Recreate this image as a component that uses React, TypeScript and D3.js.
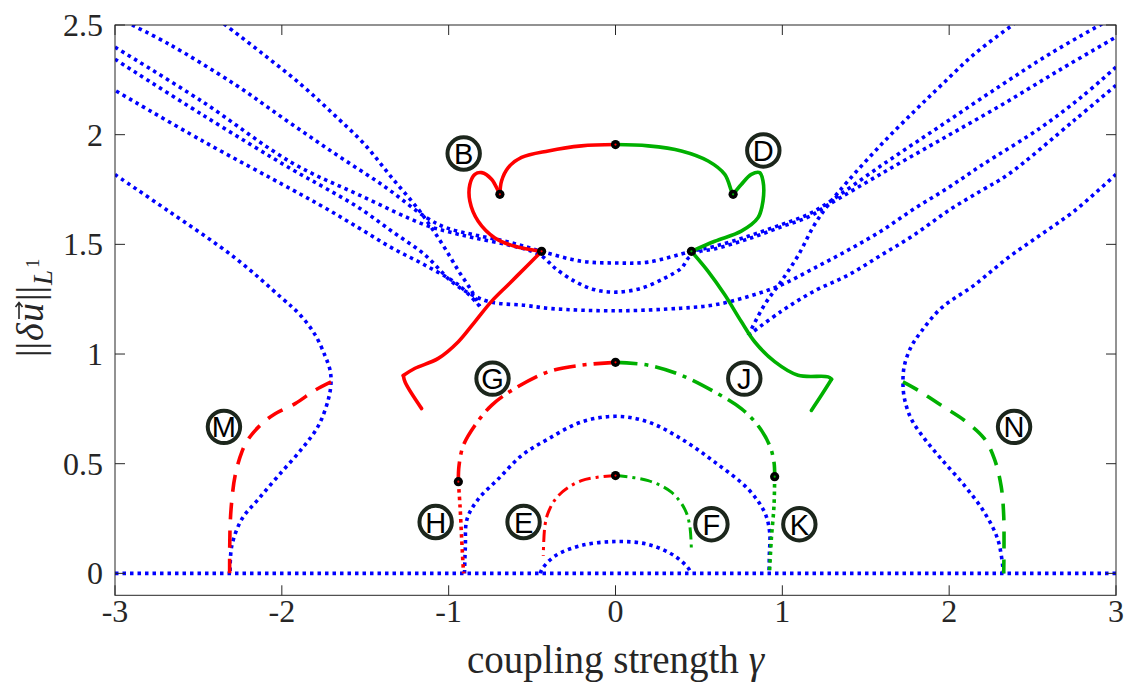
import React from 'react';
import * as d3 from 'd3';

type Pt = [number, number];

// ---------------- axes ----------------
const xTickValues = [-3, -2, -1, 0, 1, 2, 3];
const xTickLabels = ['-3', '-2', '-1', '0', '1', '2', '3'];
const yTickValues = [0, 0.5, 1, 1.5, 2, 2.5];
const yTickLabels = ['0', '0.5', '1', '1.5', '2', '2.5'];
const xTitleText = 'coupling strength ';
const xTitleSymbol = 'γ';

// ---------------- unstable branches (blue, dotted) ----------------
const trivialBranch: Pt[] = [[-3, 0], [3, 0]];
const archLow: Pt[] = [[-0.45, 0], [-0.44, 0.02], [-0.363, 0.079], [-0.204, 0.127], [0.006, 0.145], [0.196, 0.132], [0.355, 0.079], [0.44, 0.02], [0.45, 0]];
const archMid: Pt[] = [[-0.905, 0], [-0.9, 0.12], [-0.89, 0.247], [-0.822, 0.339], [-0.703, 0.43], [-0.563, 0.537], [-0.403, 0.613], [-0.204, 0.69], [0.006, 0.716], [0.196, 0.69], [0.395, 0.613], [0.595, 0.507], [0.794, 0.385], [0.894, 0.278], [0.924, 0.187], [0.922, 0.08], [0.92, 0]];
const outerLeft: Pt[] = [[-3, 1.818], [-2.68, 1.652], [-2.28, 1.438], [-2.0, 1.255], [-1.89, 1.178], [-1.8, 1.087], [-1.74, 0.99], [-1.712, 0.93], [-1.705, 0.873], [-1.72, 0.797], [-1.78, 0.674], [-1.88, 0.568], [-2.02, 0.446], [-2.14, 0.339], [-2.24, 0.247], [-2.3, 0.125], [-2.31, 0]];
const outerRight: Pt[] = [[3, 1.819], [2.75, 1.652], [2.551, 1.545], [2.351, 1.438], [2.152, 1.315], [1.952, 1.209], [1.832, 1.102], [1.772, 1.033], [1.732, 0.949], [1.723, 0.873], [1.732, 0.797], [1.772, 0.705], [1.852, 0.614], [1.952, 0.522], [2.092, 0.4], [2.211, 0.278], [2.291, 0.156], [2.321, 0.034], [2.325, 0]];
const bowlUpper: Pt[] = [[-2.898, 2.5], [-2.677, 2.413], [-2.283, 2.23], [-1.982, 2.07], [-1.683, 1.914], [-1.383, 1.763], [-1.132, 1.621], [-1.012, 1.575], [-0.844, 1.543], [-0.641, 1.511], [-0.443, 1.468], [-0.204, 1.423], [0.006, 1.415], [0.196, 1.419], [0.455, 1.468], [0.595, 1.491], [0.795, 1.537], [0.994, 1.59], [1.154, 1.636], [1.274, 1.69], [1.593, 1.859], [1.952, 2.042], [2.311, 2.225], [2.611, 2.372], [2.916, 2.505]];
const bowlMiddle: Pt[] = [[-3, 2.399], [-2.479, 2.152], [-1.94, 1.872], [-1.539, 1.726], [-1.144, 1.589], [-1.0, 1.557], [-0.844, 1.529], [-0.641, 1.497], [-0.5, 1.468], [-0.43, 1.44], [-0.363, 1.392], [-0.244, 1.331], [-0.124, 1.293], [0.006, 1.282], [0.156, 1.3], [0.295, 1.346], [0.395, 1.392], [0.44, 1.44], [0.5, 1.466], [0.593, 1.479], [0.796, 1.525], [0.994, 1.58], [1.156, 1.625], [1.275, 1.68], [1.593, 1.822], [1.952, 1.978], [2.311, 2.134], [2.671, 2.299], [3, 2.445]];
const bowlLower: Pt[] = [[-3, 2.344], [-2.479, 2.092], [-1.94, 1.842], [-1.743, 1.758], [-1.539, 1.667], [-1.341, 1.56], [-1.144, 1.453], [-0.982, 1.33], [-0.86, 1.27], [-0.743, 1.236], [-0.545, 1.222], [-0.383, 1.207], [0.006, 1.197], [0.395, 1.209], [0.593, 1.224], [0.796, 1.262], [0.994, 1.315], [1.192, 1.392], [1.395, 1.474], [1.593, 1.561], [1.79, 1.662], [1.994, 1.758], [2.192, 1.859], [2.551, 2.033], [2.79, 2.17], [3, 2.308]];
const foldLeftUpper: Pt[] = [[-2.347, 2.505], [-2.12, 2.372], [-1.88, 2.225], [-1.683, 2.088], [-1.503, 1.955], [-1.341, 1.804], [-1.18, 1.658], [-1.102, 1.575], [-1.024, 1.484], [-0.94, 1.378], [-0.862, 1.287], [-0.814, 1.218]];
const foldLeftLower: Pt[] = [[-0.814, 1.218], [-0.94, 1.314], [-1.144, 1.406], [-1.341, 1.484], [-1.539, 1.575], [-1.743, 1.667], [-1.94, 1.75], [-2.479, 1.973], [-3, 2.202]];
const foldRightUpper: Pt[] = [[0.796, 1.085], [0.892, 1.223], [0.994, 1.332], [1.096, 1.451], [1.192, 1.589], [1.275, 1.68], [1.395, 1.79], [1.593, 1.955], [1.79, 2.106], [1.952, 2.225], [2.15, 2.367], [2.389, 2.505]];
const foldRightLower: Pt[] = [[0.796, 1.085], [0.994, 1.195], [1.192, 1.287], [1.395, 1.36], [1.593, 1.451], [1.79, 1.543], [1.994, 1.653], [2.192, 1.745], [2.353, 1.818], [2.749, 2.065], [3, 2.225]];

// ---------------- red (left) branches ----------------
const redLoop: Pt[] = [[-0.443, 1.468], [-0.603, 1.491], [-0.723, 1.529], [-0.823, 1.605], [-0.873, 1.697], [-0.873, 1.773], [-0.843, 1.819], [-0.802, 1.827], [-0.743, 1.797], [-0.703, 1.743], [-0.693, 1.728]];
const redArcTop: Pt[] = [[-0.693, 1.728], [-0.683, 1.789], [-0.643, 1.85], [-0.563, 1.896], [-0.403, 1.926], [-0.204, 1.949], [0, 1.955]];
const redTail: Pt[] = [[-0.443, 1.468], [-0.523, 1.407], [-0.643, 1.316], [-0.743, 1.24], [-0.842, 1.148], [-0.942, 1.056], [-1.062, 0.98], [-1.204, 0.934], [-1.272, 0.902]];
const redTailEnd: Pt[] = [[-1.272, 0.902], [-1.26, 0.87], [-1.162, 0.751]];
const redG: Pt[] = [[0, 0.962], [-0.204, 0.949], [-0.403, 0.919], [-0.603, 0.843], [-0.743, 0.766], [-0.843, 0.674], [-0.912, 0.583], [-0.938, 0.491], [-0.942, 0.418]];
const redH: Pt[] = [[-0.942, 0.418], [-0.932, 0.308], [-0.922, 0.156], [-0.912, 0.018], [-0.91, 0]];
const redE: Pt[] = [[0, 0.446], [-0.204, 0.423], [-0.343, 0.354], [-0.403, 0.278], [-0.423, 0.217], [-0.433, 0.08]];
const redM: Pt[] = [[-1.705, 0.873], [-1.801, 0.835], [-1.92, 0.774], [-2.04, 0.728], [-2.12, 0.682], [-2.199, 0.614], [-2.24, 0.553], [-2.28, 0.446], [-2.299, 0.339], [-2.31, 0.217], [-2.313, 0]];

// ---------------- green (right) branches ----------------
const greenArcTop: Pt[] = [[0, 1.955], [0.196, 1.949], [0.395, 1.926], [0.555, 1.88], [0.655, 1.819], [0.695, 1.743], [0.705, 1.728]];
const greenLoop: Pt[] = [[0.705, 1.728], [0.754, 1.773], [0.814, 1.819], [0.864, 1.827], [0.884, 1.789], [0.884, 1.697], [0.854, 1.621], [0.754, 1.56], [0.595, 1.514], [0.455, 1.468]];
const greenTail: Pt[] = [[0.455, 1.468], [0.555, 1.377], [0.655, 1.27], [0.754, 1.148], [0.834, 1.056], [0.954, 0.965], [1.094, 0.903], [1.274, 0.896], [1.295, 0.885]];
const greenTailEnd: Pt[] = [[1.295, 0.885], [1.234, 0.812], [1.174, 0.743]];
const greenJ: Pt[] = [[0, 0.962], [0.196, 0.949], [0.395, 0.903], [0.595, 0.827], [0.754, 0.751], [0.854, 0.674], [0.924, 0.583], [0.95, 0.507], [0.954, 0.441]];
const greenK: Pt[] = [[0.954, 0.441], [0.95, 0.308], [0.934, 0.156], [0.924, 0.018], [0.922, 0]];
const greenF: Pt[] = [[0, 0.446], [0.196, 0.423], [0.335, 0.37], [0.415, 0.293], [0.445, 0.217], [0.455, 0.1]];
const greenN: Pt[] = [[1.723, 0.873], [1.813, 0.835], [1.952, 0.766], [2.092, 0.697], [2.211, 0.614], [2.271, 0.522], [2.311, 0.4], [2.327, 0.262], [2.327, 0]];

// ---------------- bifurcation points ----------------
const bifGamma = [0, -0.693, 0.705, -0.443, 0.455, 0, -0.942, 0.954, 0];
const bifNorm = [1.955, 1.728, 1.728, 1.468, 1.468, 0.962, 0.418, 0.441, 0.446];
const bifSide = ['r', 'r', 'g', 'r', 'g', 'r', 'r', 'g', 'r'];

// ---------------- circled labels ----------------
const labelNames = ['B', 'D', 'G', 'J', 'H', 'E', 'F', 'K', 'M', 'N'];
const labelGamma = [-0.91, 0.886, -0.737, 0.772, -1.078, -0.551, 0.575, 1.102, -2.347, 2.389];
const labelNorm = [1.914, 1.928, 0.888, 0.888, 0.234, 0.234, 0.224, 0.224, 0.668, 0.668];

const RED = '#ff0000';
const GREEN = '#00b000';
const BLUE = '#0000ff';

export default function App() {
  const left = 115, right = 1116, top = 25, bottom = 595.3;
  const x = d3.scaleLinear().domain([-3, 3]).range([left, right]);
  const y = d3.scaleLinear().domain([-0.1, 2.5]).range([bottom, top]);
  const line = d3.line<Pt>().x(d => x(d[0])).y(d => y(d[1])).curve(d3.curveCatmullRom.alpha(0.5));

  const dotted = { stroke: BLUE, strokeWidth: 3.6, strokeDasharray: '3.5 4', fill: 'none' };
  const blueSeries = [trivialBranch, archLow, archMid, outerLeft, outerRight, bowlUpper, bowlMiddle, bowlLower, foldLeftUpper, foldLeftLower, foldRightUpper, foldRightLower];

  const solid = (c: string) => ({ stroke: c, strokeWidth: 3.6, fill: 'none', strokeLinecap: 'round' as const, strokeLinejoin: 'round' as const });
  const dashDot = (c: string) => ({ stroke: c, strokeWidth: 3.6, fill: 'none', strokeDasharray: '22 7 4 7' });
  const dashDotFine = (c: string) => ({ stroke: c, strokeWidth: 3, fill: 'none', strokeDasharray: '12 5 3 5' });
  const dashed = (c: string) => ({ stroke: c, strokeWidth: 3.6, fill: 'none', strokeDasharray: '17 11' });
  const dottedC = (c: string) => ({ stroke: c, strokeWidth: 3.6, fill: 'none', strokeDasharray: '3.5 4' });

  const colored: { d: Pt[]; s: any }[] = [
    { d: redLoop, s: solid(RED) }, { d: redArcTop, s: solid(RED) }, { d: redTail, s: solid(RED) }, { d: redTailEnd, s: solid(RED) },
    { d: greenArcTop, s: solid(GREEN) }, { d: greenLoop, s: solid(GREEN) }, { d: greenTail, s: solid(GREEN) }, { d: greenTailEnd, s: solid(GREEN) },
    { d: redG, s: dashDot(RED) }, { d: greenJ, s: dashDot(GREEN) },
    { d: redE, s: dashDotFine(RED) }, { d: greenF, s: dashDotFine(GREEN) },
    { d: redH, s: dottedC(RED) }, { d: greenK, s: dottedC(GREEN) },
    { d: redM, s: dashed(RED) }, { d: greenN, s: dashed(GREEN) },
  ];

  const axisColor = '#262626';
  const serif = "'Liberation Serif', 'Times New Roman', serif";
  const sans = "'Liberation Sans', Arial, sans-serif";
  const tickLen = 10;

  return (
    <svg width={1134} height={698} style={{ position: 'absolute', left: 0, top: 0, background: '#fff' }}>
      <defs>
        <clipPath id="plotClip">
          <rect x={left} y={top} width={right - left} height={bottom - top} />
        </clipPath>
      </defs>
      <rect x={0} y={0} width={1134} height={698} fill="#fff" />
      <g clipPath="url(#plotClip)">
        {blueSeries.map((s, i) => <path key={'b' + i} d={line(s) || ''} {...dotted} />)}
        {colored.map((c, i) => <path key={'c' + i} d={line(c.d) || ''} {...c.s} />)}
      </g>

      {/* axes box */}
      <rect x={left} y={top} width={right - left} height={bottom - top} fill="none" stroke={axisColor} strokeWidth={1} />
      {xTickValues.map((v, i) => (
        <g key={'xt' + i}>
          <line x1={x(v)} x2={x(v)} y1={bottom} y2={bottom - tickLen} stroke={axisColor} strokeWidth={1} />
          <line x1={x(v)} x2={x(v)} y1={top} y2={top + tickLen} stroke={axisColor} strokeWidth={1} />
          <text x={x(v)} y={bottom + 27} textAnchor="middle" fontFamily={serif} fontSize={32} fill="#262626">{xTickLabels[i]}</text>
        </g>
      ))}
      {yTickValues.map((v, i) => (
        <g key={'yt' + i}>
          <line x1={left} x2={left + tickLen} y1={y(v)} y2={y(v)} stroke={axisColor} strokeWidth={1} />
          <line x1={right} x2={right - tickLen} y1={y(v)} y2={y(v)} stroke={axisColor} strokeWidth={1} />
          <text x={left - 12} y={y(v) + 11} textAnchor="end" fontFamily={serif} fontSize={32} fill="#262626">{yTickLabels[i]}</text>
        </g>
      ))}

      {/* bifurcation points */}
      {bifGamma.map((g, i) => (
        <g key={'bp' + i}>
          <circle cx={x(g)} cy={y(bifNorm[i])} r={4.6} fill="#000" />
          <circle cx={x(g)} cy={y(bifNorm[i])} r={1.1} fill={bifSide[i] === 'r' ? RED : GREEN} />
        </g>
      ))}

      {/* circled labels */}
      {labelNames.map((n, i) => (
        <g key={'lb' + i}>
          <circle cx={x(labelGamma[i])} cy={y(labelNorm[i])} r={16.2} fill="#fff" stroke="#1c261c" strokeWidth={4} />
          <text x={x(labelGamma[i])} y={y(labelNorm[i]) + 10.5} textAnchor="middle" fontFamily={sans} fontSize={29} fill="#000">{n}</text>
        </g>
      ))}

      {/* x title */}
      <text x={(left + right) / 2} y={673} textAnchor="middle" fontFamily={serif} fontSize={39} fill="#262626">
        {xTitleText}<tspan fontStyle="italic">{xTitleSymbol}</tspan>
      </text>

      {/* y title: ||δu⃗||_{L^1} */}
      <g transform="translate(43, 307) rotate(-90)" fill="#262626" fontFamily={serif}>
        <text x={-50} y={0} fontSize={38}>||</text>
        <text x={-34} y={0} fontSize={38} fontStyle="italic">δ</text>
        <text x={-15} y={0} fontSize={38} fontStyle="italic">u</text>
        <path d="M -12 -24 L 4 -24 M 0 -27.5 L 4.5 -24 L 0 -20.5" stroke="#262626" strokeWidth={1.6} fill="none" />
        <text x={6} y={0} fontSize={38}>||</text>
        <text x={22} y={9} fontSize={27} fontStyle="italic">L</text>
        <text x={39} y={-4} fontSize={19}>1</text>
      </g>
    </svg>
  );
}
